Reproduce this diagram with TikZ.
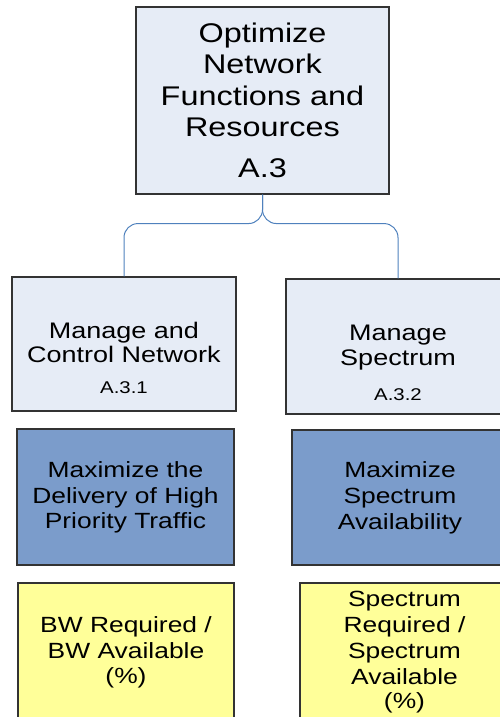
\documentclass[tikz,border=0pt]{standalone}
\usepackage{fontspec}
\setmainfont{Liberation Sans}[FakeStretch=1.2]
\begin{document}
\begin{tikzpicture}[x=1pt,y=-1pt,
  box/.style={draw=black!80,line width=1.1pt,rectangle,inner sep=0pt},
  lightbox/.style={box,fill=lightfill},
  bluebox/.style={box,fill=bluefill},
  yelbox/.style={box,fill=yelfill},
  conn/.style={draw=connblue,line width=1pt,rounded corners=14pt},
  txt/.style={anchor=base,inner sep=0pt}]
\definecolor{lightfill}{HTML}{E6ECF6}
\definecolor{bluefill}{HTML}{7B9CCB}
\definecolor{yelfill}{HTML}{FFFF99}
\definecolor{connblue}{HTML}{4F81BD}
\useasboundingbox (0,0) rectangle (500,717);
% boxes
\node[lightbox,minimum width=253pt,minimum height=187pt] (top) at (262.5,100.5) {};
\node[lightbox,minimum width=224pt,minimum height=134pt] (mid1) at (124,344) {};
\node[lightbox,minimum width=224pt,minimum height=135pt] (mid2) at (398,346.5) {};
\node[bluebox,minimum width=217pt,minimum height=136pt] (blue1) at (125.5,497) {};
\node[bluebox,minimum width=216pt,minimum height=135pt] (blue2) at (400,497.5) {};
\node[yelbox,minimum width=216pt,minimum height=150pt] (yel1) at (126,658) {};
\node[yelbox,minimum width=210pt,minimum height=150pt] (yel2) at (405,658) {};
% top text
\begin{scope}[font=\fontsize{27}{31}\selectfont]
\node[txt] (t1) at (262.5,43) {Optimize};
\node[txt] (t2) at (262.5,74) {Network};
\node[txt] (t3) at (262.5,105) {Functions and};
\node[txt] (t4) at (262.5,136) {Resources};
\node[txt] (t5) at (262.5,177) {A.3};
\end{scope}
% middle texts
\begin{scope}[font=\fontsize{22.5}{25}\selectfont]
\node[txt] (m1a) at (124,338) {Manage and};
\node[txt] (m1b) at (124,362) {Control Network};
\node[txt] (m2a) at (398,340) {Manage};
\node[txt] (m2b) at (398,365) {Spectrum};
\end{scope}
\begin{scope}[font=\fontsize{17}{20}\selectfont]
\node[txt] (m1c) at (124,393) {A.3.1};
\node[txt] (m2c) at (398,400) {A.3.2};
\end{scope}
% blue texts
\begin{scope}[font=\fontsize{22}{26}\selectfont]
\node[txt] (b1a) at (125.5,477) {Maximize the};
\node[txt] (b1b) at (125.5,503) {Delivery of High};
\node[txt] (b1c) at (125.5,528) {Priority Traffic};
\node[txt] (b2a) at (400,477) {Maximize};
\node[txt] (b2b) at (400,503) {Spectrum};
\node[txt] (b2c) at (400,529) {Availability};
% yellow texts
\node[txt] (y1a) at (126,632) {BW Required /};
\node[txt] (y1b) at (126,658) {BW Available};
\node[txt] (y1c) at (126,683) {(\%)};
\node[txt] (y2a) at (404.5,606) {Spectrum};
\node[txt] (y2b) at (404.5,632) {Required /};
\node[txt] (y2c) at (404.5,658) {Spectrum};
\node[txt] (y2d) at (404.5,684) {Available};
\node[txt] (y2e) at (404.5,708) {(\%)};
\end{scope}
% connectors
\draw[conn] (top.south) -- ++(0,29) -| (mid1.north);
\draw[conn] (top.south) -- ++(0,29) -| (mid2.north);
\end{tikzpicture}
\end{document}
